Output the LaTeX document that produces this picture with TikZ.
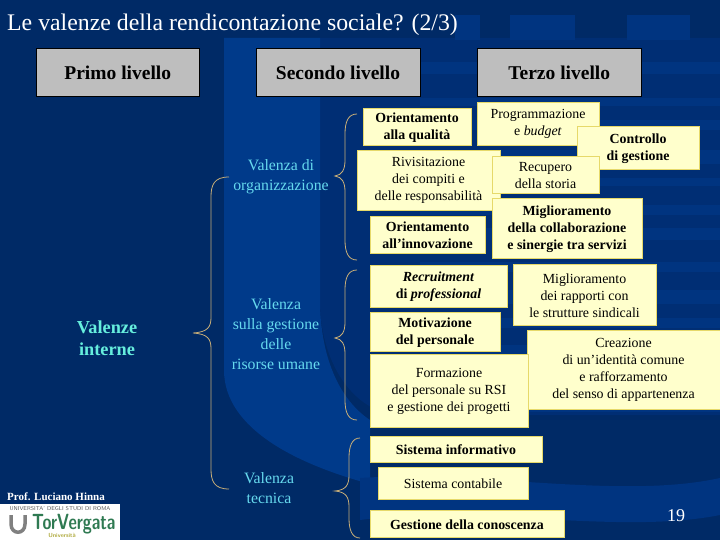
\documentclass[tikz,border=0pt]{standalone}
\usepackage{fontspec}
\setmainfont{Liberation Serif}
\definecolor{navy}{HTML}{002A66}
\definecolor{bandA}{HTML}{003A8A}
\definecolor{bandB}{HTML}{002E74}
\definecolor{bandC}{HTML}{003480}
\definecolor{hdr}{HTML}{BEBEBE}
\definecolor{ybox}{HTML}{FFFFCC}
\definecolor{yedge}{HTML}{E6D96A}
\definecolor{cyantxt}{HTML}{66D9EE}
\definecolor{teal}{HTML}{66EEDD}
\definecolor{brace}{HTML}{C8AE78}
\definecolor{tvgreen}{HTML}{2F7A52}
\tikzset{
 hdrbox/.style={draw=black,fill=hdr,line width=.8pt,font=\fontsize{19.5}{22}\selectfont\bfseries,text=black,align=center},
 ybx/.style={draw=yedge,fill=ybox,line width=.8pt,text=black,align=center,font=\fontsize{13.9}{17}\selectfont,inner sep=0pt},
 ybold/.style={ybx,font=\fontsize{13.9}{17}\selectfont\bfseries},
 val/.style={text=cyantxt,align=center,font=\fontsize{15.8}{20}\selectfont},
 curlyb/.style={draw=brace,line width=.8pt},
}
\newcommand{\ybxat}[7]{\path[#1] (#2,#3) rectangle (#4,#5);\node[#1,draw=none,fill=none] (#6) at ({(#2+#4)/2},{(#3+#5)/2+.8}) {#7};}
\newcommand{\curlyat}[6]{% top-end x, top y, spine x, tip x, tip y, bottom y
 \path[curlyb] (#1,#2) .. controls (#3+3,#2) and (#3,#2+8) .. (#3,#2+20)
  -- (#3,#5-16) .. controls (#3,#5-6) and (#3-3,#5-1) .. (#4,#5)
  .. controls (#3-3,#5+1) and (#3,#5+6) .. (#3,#5+16)
  -- (#3,#6-20) .. controls (#3,#6-8) and (#3+3,#6) .. (#1,#6);}
\begin{document}
\begin{tikzpicture}[x=1pt,y=-1pt]
\useasboundingbox (0,0) rectangle (720,540);
% background
\fill[navy] (0,0) rectangle (720,540);
\fill[bandB] (320,38) -- (720,38) -- (720,415) -- (400,415) .. controls (360,415) and (320,370) .. (320,300) -- cycle;
\foreach \yy/\hh in {62/12,98/8,120/10,150/14,178/8,205/10,228/12,262/10,290/14,318/10,345/12,372/10,400/12}
  \fill[bandC] (420,\yy) rectangle (720,\yy+\hh);
\fill[bandA] (224,38) -- (320,38) -- (320,307) .. controls (322,360) and (340,400) .. (370,420)
  -- (370,484) .. controls (300,465) and (224,430) .. (224,370) -- cycle;
\fill[bandC] (510,15) rectangle (575,40);
\fill[bandC] (627,15) rectangle (690,40);
\fill[bandC] (455,15) rectangle (480,40);
\fill[bandC] (360,478) .. controls (480,470) and (620,500) .. (720,478) -- (720,515) .. controls (620,535) and (480,505) .. (360,520) -- cycle;
% title
\node[anchor=west,text=white,inner sep=0pt,font=\fontsize{23.8}{28}\selectfont] (title) at (7,25) {Le valenze della rendicontazione sociale? (2/3)};
% headers
\ybxat{hdrbox}{36.5}{48.5}{199}{96}{h1}{Primo livello}
\ybxat{hdrbox}{256}{48.5}{420}{96}{h2}{Secondo livello}
\ybxat{hdrbox}{477.5}{48.5}{641}{96}{h3}{Terzo livello}
% braces
\curlyat{229}{177}{211}{193}{333}{489}
\curlyat{357}{114}{345}{335}{176}{260}
\curlyat{357}{270}{345}{335}{338}{420}
\curlyat{360}{438}{349}{335}{491}{538}
% yellow boxes
\ybxat{ybold}{363}{108}{471}{145}{a1}{Orientamento\\alla qualità}
\ybxat{ybx}{357}{150}{500}{210}{a2}{Rivisitazione\\dei compiti e\\delle responsabilità}
\ybxat{ybold}{370}{216}{485}{253}{a3}{Orientamento\\all’innovazione}
\ybxat{ybx}{477}{102}{599}{145}{c1}{Programmazione\\e \textit{budget}}
\ybxat{ybold}{577}{126}{699}{169}{c2}{Controllo\\di gestione}
\ybxat{ybx}{492}{156}{599}{193}{c3}{Recupero\\della storia}
\ybxat{ybold}{492}{198}{642}{258}{c4}{Miglioramento\\della collaborazione\\e sinergie tra servizi}
\ybxat{ybold}{370}{265}{507}{307}{b1}{\textit{Recruitment}\\di \textit{professional}}
\ybxat{ybx}{513}{264}{656}{325}{d1}{Miglioramento\\dei rapporti con\\le strutture sindicali}
\ybxat{ybold}{370}{312}{500}{351}{b2}{Motivazione\\del personale}
\ybxat{ybx}{527}{330}{720}{409}{d2}{Creazione\\di un’identità comune\\e rafforzamento\\del senso di appartenenza}
\ybxat{ybx}{370}{354}{528}{427}{b3}{Formazione\\del personale su RSI\\e gestione dei progetti}
\ybxat{ybold}{370}{436}{542}{462}{e1}{Sistema informativo}
\ybxat{ybx}{378}{467}{528}{499}{e2}{Sistema contabile}
\ybxat{ybold}{370}{510}{564}{537}{e3}{Gestione della conoscenza}
% level-two labels
\node[val] (v1) at (281,177) {Valenza di\\organizzazione};
\node[val] (v2) at (276,334) {Valenza\\sulla gestione\\delle\\risorse umane};
\node[val] (v3) at (269,488) {Valenza\\tecnica};
\node[text=teal,align=center,font=\fontsize{18.3}{22}\selectfont\bfseries] (v0) at (107,338) {Valenze\\interne};
% page number, author
\node[text=white,font=\fontsize{18}{20}\selectfont] (pg) at (676,516) {19};
\node[anchor=west,text=white,inner sep=0pt,font=\fontsize{11}{12}\selectfont\bfseries] (prof) at (7,496.5) {Prof. Luciano Hinna};
% logo
\fill[white] (0,504) rectangle (120,540);
\node[text=black!65,inner sep=0pt,font=\fontsize{5.6}{6}\selectfont\sffamily] (l1) at (60,509) {UNIVERSITA’ DEGLI STUDI DI ROMA};
\node[text=tvgreen,inner sep=0pt,font=\fontsize{22}{24}\selectfont\sffamily\bfseries,anchor=west,xscale=.74] (l2) at (32,524) {TorVergata};
\node[text=yellow!65!black,inner sep=0pt,font=\fontsize{6}{7}\selectfont\sffamily\bfseries] (l3) at (62,535.5) {Università};
\draw[gray,line width=3.5pt] (11,515) -- (11,524) .. controls (11,535) and (25,535) .. (25,524) -- (25,515);
\end{tikzpicture}
\end{document}
